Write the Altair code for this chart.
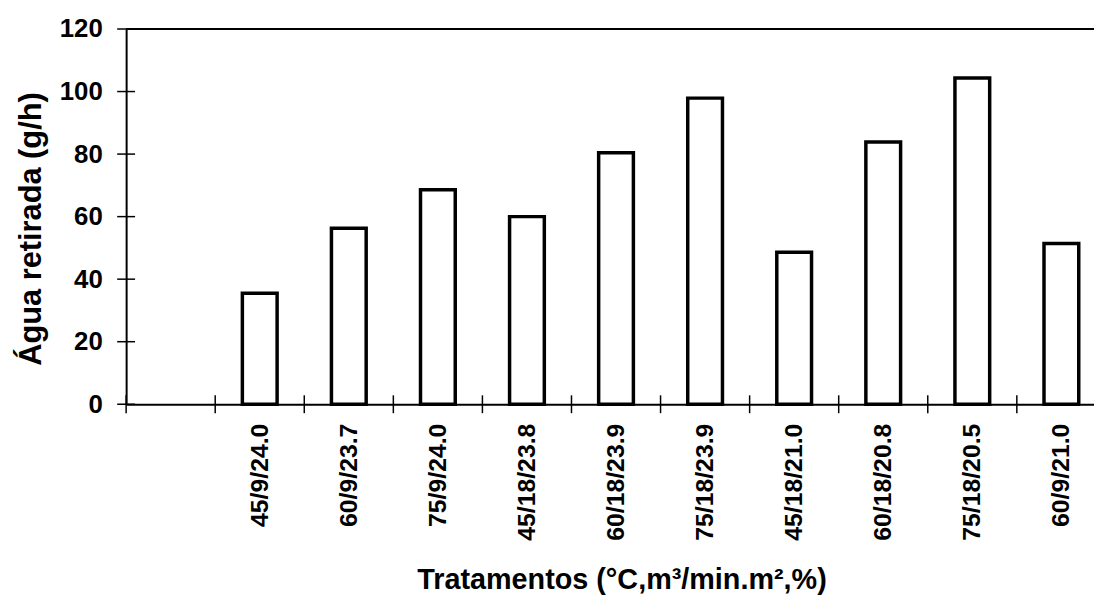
import altair as alt
import pandas as pd

# ---- data ----
categories = ["45/9/24.0", "60/9/23.7", "75/9/24.0", "45/18/23.8", "60/18/23.9",
              "75/18/23.9", "45/18/21.0", "60/18/20.8", "75/18/20.5", "60/9/21.0"]
values = [35.5, 56.3, 68.6, 60.0, 80.4, 97.9, 48.6, 83.9, 104.3, 51.4]
x_domain = [""] + categories          # first (empty) slot on the axis
y_ticks = [0, 20, 40, 60, 80, 100, 120]
y_max = 120

X_TITLE = "Tratamentos (°C,m³/min.m²,%)"
Y_TITLE = "Água retirada (g/h)"

df = pd.DataFrame({"trat": categories, "agua": values})
df_xt = pd.DataFrame({"trat": x_domain})
df_yt = pd.DataFrame({"agua": y_ticks})

FONT = "Liberation Sans"

x_scale = alt.Scale(domain=x_domain, range=[0, 987], paddingInner=0, paddingOuter=0)
y_scale = alt.Scale(domain=[0, y_max], nice=False)

x_axis_main = alt.Axis(
    labelAngle=-90, labelOverlap=False, labelFont=FONT, labelFontSize=25,
    labelFontWeight="bold", labelColor="black", labelPadding=19,
    domain=True, domainColor="black", domainWidth=2,
    ticks=False, tickSize=0,
    grid=False,
    titleFont=FONT, titleFontSize=29, titleFontWeight="bold", titleColor="black",
    titleX=499, titleY=186, titleAlign="center", titleBaseline="alphabetic",
)
y_axis_main = alt.Axis(
    values=y_ticks, labelFont=FONT, labelFontSize=26, labelFontWeight="bold",
    labelColor="black", labelPadding=24,
    domain=True, domainColor="black", domainWidth=2,
    ticks=False, tickSize=0,
    grid=False,
    titleFont=FONT, titleFontSize=31, titleFontWeight="bold", titleColor="black",
    titleX=-86, titleY=201, titleAngle=-90, titleAlign="center",
    titleBaseline="alphabetic",
)

bars = alt.Chart(df).mark_bar(
    fill="white", stroke="black", strokeWidth=3.5, size=35
).encode(
    x=alt.X("trat:N", scale=x_scale, sort=x_domain, axis=x_axis_main, title=X_TITLE),
    y=alt.Y("agua:Q", scale=y_scale, axis=y_axis_main, title=Y_TITLE),
)

# crossing tick marks on the x axis (at band boundaries)
x_ticks = alt.Chart(df_xt).mark_tick(
    orient="vertical", size=18, thickness=1.5, color="black", opacity=1
).encode(
    x=alt.X("trat:N", scale=x_scale, sort=x_domain, bandPosition=0,
            axis=x_axis_main, title=X_TITLE),
    y=alt.value("height"),
)

# crossing tick marks on the y axis
y_tick_marks = alt.Chart(df_yt).mark_tick(
    orient="horizontal", size=18, thickness=1.5, color="black", opacity=1
).encode(
    y=alt.Y("agua:Q", scale=y_scale, axis=y_axis_main, title=Y_TITLE),
    x=alt.value(0),
)

top_line = alt.Chart(df).mark_rule(color="black", strokeWidth=2).encode(
    y=alt.YDatum(y_max, scale=y_scale, axis=y_axis_main, title=Y_TITLE),
)

chart = alt.layer(bars, x_ticks, y_tick_marks, top_line).properties(
    width=975, height=378,
    padding={"left": 119, "top": 19, "right": 0, "bottom": 190},
    autosize=alt.AutoSizeParams(type="none"),
    background="white",
).configure_view(strokeWidth=0)

chart.save("out.html", embed_options={"renderer": "svg", "actions": False})
